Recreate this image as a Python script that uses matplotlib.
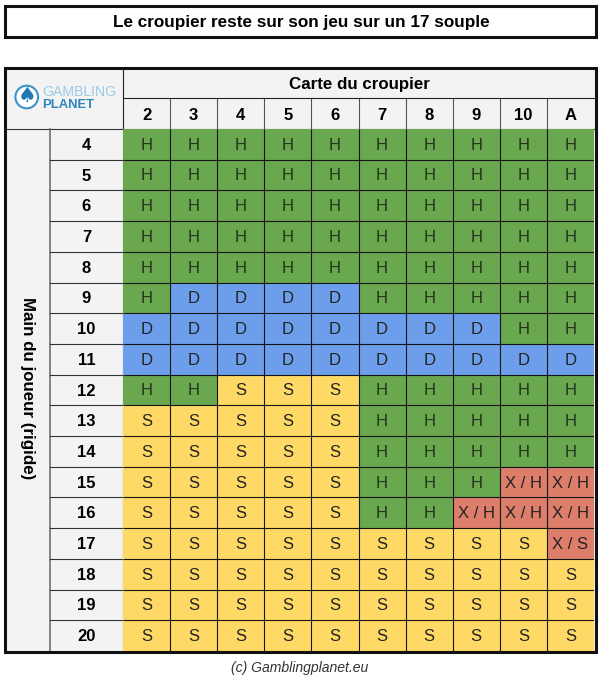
import numpy as np
import matplotlib
matplotlib.use("Agg")
import matplotlib.pyplot as plt
from matplotlib.colors import ListedColormap
from matplotlib.patches import Rectangle, Circle

title = "Le croupier reste sur son jeu sur un 17 souple"
col_title = "Carte du croupier"
row_title = "Main du joueur (rigide)"
footer = "(c) Gamblingplanet.eu"
dealer = ["2", "3", "4", "5", "6", "7", "8", "9", "10", "A"]
player = ["4", "5", "6", "7", "8", "9", "10", "11", "12", "13", "14", "15", "16", "17", "18", "19", "20"]
moves = [
    ["H"] * 10,
    ["H"] * 10,
    ["H"] * 10,
    ["H"] * 10,
    ["H"] * 10,
    ["H", "D", "D", "D", "D", "H", "H", "H", "H", "H"],
    ["D", "D", "D", "D", "D", "D", "D", "D", "H", "H"],
    ["D"] * 10,
    ["H", "H", "S", "S", "S", "H", "H", "H", "H", "H"],
    ["S", "S", "S", "S", "S", "H", "H", "H", "H", "H"],
    ["S", "S", "S", "S", "S", "H", "H", "H", "H", "H"],
    ["S", "S", "S", "S", "S", "H", "H", "H", "X / H", "X / H"],
    ["S", "S", "S", "S", "S", "H", "H", "X / H", "X / H", "X / H"],
    ["S", "S", "S", "S", "S", "S", "S", "S", "S", "X / S"],
    ["S"] * 10,
    ["S"] * 10,
    ["S"] * 10,
]
move_codes = {"H": 0, "D": 1, "S": 2, "X / H": 3, "X / S": 3}
move_colors = ["#6AA84F", "#6D9EEB", "#FFD966", "#DD7E6B"]

FONT = "Liberation Sans"
W, H = 600, 679
fig = plt.figure(figsize=(W / 100, H / 100), dpi=100, facecolor="white")

bg = fig.add_axes([0, 0, 1, 1])
bg.set_xlim(0, W)
bg.set_ylim(H, 0)
bg.axis("off")

GRID_L, GRID_R, GRID_T, GRID_B = 123, 594, 129, 651
COL_W = (GRID_R - GRID_L) / len(dealer)
ROW_H = (GRID_B - GRID_T) / len(player)
HEAD = "#F3F3F3"
LW = 0.8

# title box
bg.add_patch(Rectangle((5, 5.5), 590.5, 31, fc="white", ec="#111111", lw=2.2))
bg.text(301.5, 22.5, title, ha="center", va="center", fontsize=12.3,
        fontweight="bold", family=FONT, color="black")

# header fill
bg.add_patch(Rectangle((5, 68), 590, 583, fc=HEAD, ec="none"))

# main grid
ax = fig.add_axes([GRID_L / W, 1 - GRID_B / H, (GRID_R - GRID_L) / W, (GRID_B - GRID_T) / H])
codes = np.array([[move_codes[m] for m in row] for row in moves])
ax.pcolormesh(np.arange(len(dealer) + 1), np.arange(len(player) + 1), codes,
              cmap=ListedColormap(move_colors), vmin=-0.5, vmax=3.5)
ax.vlines(np.arange(1, len(dealer)), 0, len(player), color="#151515", lw=LW)
ax.hlines(np.arange(1, len(player)), 0, len(dealer), color="#151515", lw=LW)
ax.set_xlim(0, len(dealer))
ax.set_ylim(len(player), 0)
ax.axis("off")
for i, row in enumerate(moves):
    for j, m in enumerate(row):
        ax.text(j + 0.5, i + 0.53, m, ha="center", va="center", fontsize=12,
                family=FONT, color="#24331f" if m == "H" else "#222222")

# header lines and labels
for j, d in enumerate(dealer):
    x = GRID_L + j * COL_W
    if j:
        bg.plot([x, x], [98, GRID_T], color="#555555", lw=LW, solid_capstyle="butt")
    bg.text(x + COL_W / 2, 115, d, ha="center", va="center", fontsize=12,
            fontweight="bold", family=FONT, color="black")
bg.plot([GRID_L, GRID_L], [68, GRID_B], color="#222222", lw=LW)
bg.plot([GRID_L, GRID_R], [98, 98], color="#222222", lw=LW)
bg.plot([5, GRID_R], [GRID_T, GRID_T], color="#333333", lw=LW)
bg.plot([50, 50], [GRID_T, GRID_B], color="#666666", lw=1.1)
bg.text((GRID_L + GRID_R) / 2 + 0.5, 84.5, col_title, ha="center", va="center", fontsize=12.2,
        fontweight="bold", family=FONT, color="black")
for i, p in enumerate(player):
    y = GRID_T + i * ROW_H
    if i:
        bg.plot([50, GRID_L], [y, y], color="#333333", lw=LW)
    bg.text(86.5, y + ROW_H / 2 + 1, p, ha="center", va="center", fontsize=12,
            fontweight="bold", family=FONT, color="black")
bg.text(27, 388, row_title, ha="center", va="center", rotation=270, fontsize=12.2,
        fontweight="bold", family=FONT, color="black")

# logo
BLUE = "#2E86BE"
bg.add_patch(Circle((26.7, 97), 11.3, fc="white", ec="#3C93C8", lw=1.5))
bg.text(26.7, 96, "\u2660", ha="center", va="center", fontsize=15, color="#1F78B4", family="DejaVu Sans")
bg.text(42.5, 91.5, "GAMBLING", ha="left", va="center", fontsize=10.2, color="#9CCAE6", family=FONT)
bg.text(42.5, 105.5, "PLANET", ha="left", va="center", fontsize=9.4, color=BLUE, fontweight="bold", family=FONT)

# outer frame on top
top = fig.add_axes([0, 0, 1, 1])
top.set_xlim(0, W)
top.set_ylim(H, 0)
top.axis("off")
top.patch.set_alpha(0)
top.add_patch(Rectangle((5, 67.5), 590.5, 584.5, fc="none", ec="#111111", lw=2.2))

bg.text(300, 668, footer, ha="center", va="center", fontsize=10.1, style="italic",
        family=FONT, color="#333333")

fig.savefig("out.png", dpi=100)
